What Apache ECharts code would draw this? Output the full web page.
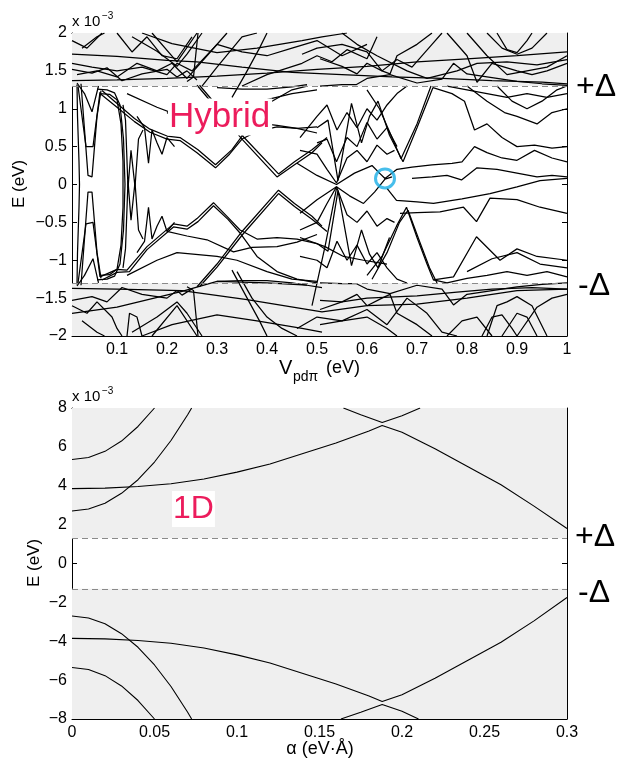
<!DOCTYPE html>
<html><head><meta charset="utf-8">
<script src="https://cdn.jsdelivr.net/npm/echarts@6/dist/echarts.min.js"></script>
<style>html,body{margin:0;padding:0;background:#fff}#c{width:620px;height:762px}</style>
</head><body><div id="c"></div>
<script>
// ---------- Top panel (Hybrid), x = V_pdπ (eV), y = E (×10^-3 eV) ----------
const topXTicks = [0.1,0.2,0.3,0.4,0.5,0.6,0.7,0.8,0.9,1];
const deltaTop = 1.3;
const ovalL  = [[0.02,1.32],[0.021,0.9],[0.024,0.3],[0.025,0],[0.024,-0.3],[0.021,-0.9],[0.02,-1.32]];
const ovalR1 = [[0.06,1.26],[0.08,1.25],[0.095,1.21],[0.106,1.05],[0.113,0.6],[0.116,0.0],[0.113,-0.6],[0.106,-1.05],[0.095,-1.21],[0.08,-1.25],[0.06,-1.26]];
const ovalR2 = [[0.066,1.2],[0.085,1.19],[0.1,1.12],[0.108,0.8],[0.112,0.3],[0.112,-0.3],[0.108,-0.8],[0.1,-1.12],[0.085,-1.19],[0.066,-1.2]];
const dipU1 = [[0.02,1.34],[0.035,1.2],[0.05,0.96],[0.063,1.3]];
const dipU2 = [[0.022,1.3],[0.038,0.5],[0.052,0.5],[0.066,1.22]];
const dipU3 = [[0.028,1.33],[0.042,0.12],[0.05,0.1],[0.06,0.9],[0.068,1.24]];
const dipL1 = [[0.02,-1.34],[0.035,-1.2],[0.052,-0.98],[0.063,-1.3]];
const dipL2 = [[0.022,-1.3],[0.038,-0.52],[0.052,-0.5],[0.066,-1.22]];
const dipL3 = [[0.028,-1.33],[0.042,-0.1],[0.05,-0.1],[0.06,-0.9],[0.068,-1.24]];
const zigA = [[0.112,1.05],[0.117,0.85],[0.122,-0.05],[0.128,0.45],[0.136,-0.03],[0.143,0.6],[0.152,0.72]];
const zigB = [[0.112,-1.1],[0.117,-0.85],[0.122,0.05],[0.128,-0.47],[0.136,0.03],[0.143,-0.6],[0.152,-0.72]];
const zigC = [[0.14,0.9],[0.155,0.75],[0.163,0.28],[0.17,0.72],[0.18,0.55],[0.19,0.4],[0.2,0.62],[0.215,0.5]];
const zigD = [[0.14,-0.9],[0.155,-0.75],[0.163,-0.3],[0.17,-0.72],[0.18,-0.55],[0.19,-0.42],[0.2,-0.62],[0.215,-0.5]];
const wU1 = [[0.066,1.2],[0.1,1.02],[0.135,0.83],[0.166,0.69],[0.2,0.6],[0.226,0.58],[0.26,0.42],[0.297,0.22],[0.325,0.4],[0.35,0.6],[0.38,0.7],[0.42,0.76],[0.46,0.74],[0.5,0.76]];
const wU2 = [[0.07,1.24],[0.1,1.07],[0.135,0.87],[0.166,0.73],[0.2,0.64],[0.226,0.62],[0.262,0.46],[0.297,0.26],[0.33,0.46],[0.35,0.64],[0.38,0.9],[0.41,1.1],[0.45,1.25],[0.48,1.3]];
const diagU1 = [[0.26,1.31],[0.3,1.0],[0.35,0.6],[0.42,0.1],[0.455,0.26],[0.49,0.42],[0.51,0.55]];
const diagU2 = [[0.265,1.31],[0.3,1.04],[0.35,0.65],[0.423,0.14],[0.455,0.3],[0.49,0.46],[0.52,0.62]];
const wL1 = [[0.066,-1.22],[0.1,-1.12],[0.12,-1.13],[0.16,-0.82],[0.213,-0.52],[0.24,-0.55],[0.26,-0.45],[0.293,-0.24],[0.32,-0.42],[0.346,-0.6],[0.38,-0.72],[0.42,-0.7],[0.46,-0.72],[0.5,-0.78]];
const wL2 = [[0.07,-1.26],[0.1,-1.16],[0.125,-1.15],[0.16,-0.86],[0.213,-0.56],[0.24,-0.59],[0.262,-0.49],[0.293,-0.28],[0.322,-0.46],[0.346,-0.64],[0.38,-0.95],[0.42,-1.15],[0.46,-1.25],[0.5,-1.3]];
const diagL1 = [[0.26,-1.35],[0.3,-1.05],[0.35,-0.62],[0.423,-0.075],[0.455,-0.25],[0.49,-0.42],[0.51,-0.55]];
const diagL2 = [[0.265,-1.35],[0.3,-1.09],[0.35,-0.67],[0.423,-0.12],[0.455,-0.29],[0.49,-0.46],[0.52,-0.62]];
const flatL = [[0.2,-0.62],[0.24,-0.68],[0.28,-0.73],[0.333,-0.89],[0.37,-0.83],[0.42,-0.82],[0.46,-0.76],[0.5,-0.66]];
const flatU = [[0.2,0.95],[0.25,0.72],[0.3,0.78],[0.333,0.87],[0.37,0.82],[0.42,0.78],[0.46,0.74],[0.5,0.68]];
const midU1 = [[0.12,1.2],[0.18,1.02],[0.22,0.92],[0.3,0.97],[0.34,1.0],[0.4,1.12],[0.45,1.2],[0.5,1.25]];
const midL1 = [[0.12,-1.2],[0.18,-1.0],[0.22,-0.9],[0.3,-0.95],[0.34,-1.0],[0.4,-1.15],[0.45,-1.25],[0.5,-1.28]];
const midL2 = [[0.3,-1.28],[0.35,-1.27],[0.4,-1.27],[0.45,-1.3],[0.48,-1.33]];
const midU2 = [[0.3,1.28],[0.35,1.26],[0.4,1.26],[0.45,1.29],[0.48,1.32]];
const rU1 = [[0.5,0.75],[0.522,0.85],[0.542,0.05],[0.569,1.07],[0.589,0.55],[0.605,0.9],[0.622,1.1],[0.645,0.65],[0.672,0.3],[0.7,0.75],[0.732,1.28]];
const rU2 = [[0.6,1.25],[0.625,1.0],[0.65,0.62],[0.668,0.34],[0.7,0.8],[0.728,1.3]];
const rU3 = [[0.5,0.55],[0.52,0.6],[0.539,0.3],[0.56,0.62],[0.58,0.5],[0.6,0.82],[0.62,0.6],[0.64,0.75],[0.66,0.5]];
const rU4 = [[0.46,0.28],[0.5,0.12],[0.539,0.0],[0.575,0.15],[0.61,0.25],[0.625,0.15],[0.636,0.08],[0.66,0.2],[0.69,0.23],[0.73,0.26],[0.77,0.28],[0.79,0.3],[0.815,0.5],[0.84,0.42],[0.87,0.35],[0.9,0.32],[0.935,0.45],[0.97,0.35],[1.0,0.3]];
const rU5 = [[0.69,0.08],[0.73,0.1],[0.76,0.12],[0.789,0.06],[0.82,0.22],[0.86,0.2],[0.9,0.15],[0.94,0.1],[0.97,0.12],[1.0,0.1]];
const rU6 = [[0.732,1.28],[0.77,1.2],[0.795,1.1],[0.815,0.72],[0.84,0.8],[0.87,0.62],[0.9,0.5],[0.935,0.52],[0.97,0.48],[1.0,0.5]];
const rU7 = [[0.8,1.3],[0.84,1.1],[0.875,0.95],[0.9,0.9],[0.94,0.8],[0.97,0.95],[1.0,1.0]];
const rU8 = [[0.86,1.3],[0.89,1.1],[0.92,1.0],[0.95,1.1],[0.98,1.25],[1.0,1.3]];
const rU9 = [[0.76,1.3],[0.8,1.25],[0.84,1.2],[0.88,1.15],[0.92,1.2],[0.96,1.15],[1.0,1.2]];
const rU10 = [[0.466,0.62],[0.5,0.9],[0.52,1.05],[0.54,0.72],[0.56,0.95],[0.58,0.75],[0.6,1.0],[0.62,0.85],[0.64,1.05],[0.66,1.2],[0.68,1.3]];
const rU11 = [[0.466,0.45],[0.5,0.4],[0.52,0.2],[0.539,0.02],[0.56,0.35],[0.58,0.45],[0.6,0.3],[0.62,0.52],[0.64,0.4],[0.655,0.45]];
const rL1 = [[0.466,-0.38],[0.5,-0.2],[0.539,-0.03],[0.565,-0.15],[0.593,-0.25],[0.615,-0.1],[0.636,0.07],[0.65,0.1]];
const rL3 = [[0.64,-0.05],[0.659,-0.21],[0.7,-0.23],[0.733,-0.25],[0.79,-0.19],[0.846,-0.12],[0.9,-0.03],[0.946,0.05],[1.0,0.08]];
const rL4 = [[0.666,-0.38],[0.7,-0.37],[0.746,-0.36],[0.793,-0.3],[0.819,-0.49],[0.846,-0.18],[0.9,-0.2],[0.946,-0.3],[1.0,-0.38]];
const rL5 = [[0.6,-1.2],[0.63,-0.95],[0.659,-0.55],[0.679,-0.3],[0.7,-0.7],[0.72,-1.05],[0.733,-1.26],[0.76,-1.3]];
const rL6 = [[0.61,-1.25],[0.64,-0.9],[0.665,-0.5],[0.682,-0.34],[0.705,-0.75],[0.725,-1.1],[0.74,-1.3]];
const rL7 = [[0.466,-0.7],[0.516,-0.82],[0.553,-0.95],[0.593,-1.0],[0.64,-1.05]];
const rL8 = [[0.49,-1.6],[0.516,-0.82],[0.539,-0.05]];
const rL9 = [[0.733,-1.26],[0.773,-1.22],[0.819,-0.69],[0.866,-1.0],[0.9,-0.85],[0.94,-0.95],[1.0,-1.0]];
const rL10 = [[0.8,-1.15],[0.85,-0.98],[0.9,-0.9],[0.946,-1.05],[1.0,-1.1]];
const rL11 = [[0.5,-0.78],[0.522,-0.88],[0.542,-0.08],[0.569,-1.07],[0.589,-0.6],[0.605,-0.92],[0.622,-1.1],[0.645,-0.7]];
const rL12 = [[0.76,-1.3],[0.8,-1.24],[0.84,-1.2],[0.88,-1.15],[0.92,-1.2],[0.96,-1.15],[1.0,-1.22]];
const rL13 = [[0.466,-0.6],[0.5,-0.5],[0.52,-0.25],[0.539,-0.03],[0.56,-0.4],[0.58,-0.5],[0.6,-0.35],[0.62,-0.55],[0.64,-0.45],[0.655,-0.5]];
const rL14 = [[0.466,-0.95],[0.5,-1.0],[0.52,-1.1],[0.54,-0.75],[0.56,-1.0],[0.58,-0.8],[0.6,-1.05],[0.62,-0.9],[0.64,-1.1],[0.66,-1.25],[0.68,-1.3]];
// gray-zone bands (|E| > Δ)
const gU1 = [[0.01,1.37],[0.1,1.38],[0.2,1.4],[0.3,1.43],[0.4,1.47],[0.5,1.52],[0.6,1.56],[0.7,1.62],[0.8,1.66],[0.9,1.7],[1.0,1.75]];
const gU2 = [[0.01,1.72],[0.1,1.69],[0.2,1.64],[0.26,1.62],[0.35,1.55],[0.45,1.48],[0.55,1.45],[0.65,1.42],[0.75,1.4],[0.85,1.37],[0.95,1.35],[1.0,1.33]];
const gU3 = [[0.01,1.6],[0.05,1.55],[0.1,1.5],[0.15,1.55],[0.2,1.45],[0.22,1.6],[0.25,1.5],[0.3,1.85],[0.35,1.75],[0.4,1.7],[0.45,1.8],[0.5,1.9],[0.55,1.7],[0.6,1.85]];
const gU4 = [[0.01,1.9],[0.04,1.8],[0.07,2.0]];
const gU5 = [[0.1,2.0],[0.13,1.75],[0.16,1.95],[0.19,1.7],[0.22,1.66],[0.25,1.95]];
const gU6 = [[0.27,1.3],[0.3,1.55],[0.35,1.95],[0.38,2.0]];
const gU7 = [[0.35,1.3],[0.4,1.45],[0.47,1.6],[0.5,1.7],[0.53,1.62],[0.56,1.78],[0.6,1.66],[0.62,1.95]];
const gU8 = [[0.47,1.72],[0.5,1.8],[0.55,1.85],[0.6,1.75],[0.63,1.5],[0.66,1.65],[0.69,1.55],[0.73,1.85],[0.75,2.0]];
const gU9 = [[0.76,2.0],[0.8,1.7],[0.82,1.35],[0.85,1.6],[0.9,1.5],[0.93,1.45],[0.96,1.5],[1.0,1.6]];
const gU10 = [[0.84,2.0],[0.87,1.8],[0.9,1.72],[0.93,1.8],[0.96,2.0]];
const gU11 = [[0.8,2.0],[0.84,1.7],[0.88,1.45],[0.92,1.5],[0.96,1.55],[1.0,1.7]];
const gU12 = [[0.02,1.45],[0.06,1.5],[0.1,1.42],[0.14,1.6],[0.18,1.5],[0.21,1.6],[0.24,1.4],[0.28,1.7],[0.32,2.0]];
const gU13 = [[0.55,2.0],[0.58,1.85],[0.62,1.7],[0.68,1.5],[0.72,1.4],[0.78,1.5],[0.82,1.6],[0.88,1.62],[0.94,1.58],[1.0,1.65]];
const gU14 = [[0.01,1.52],[0.05,1.47],[0.08,1.54],[0.11,1.37],[0.15,1.46],[0.2,1.52],[0.22,1.42],[0.24,1.5],[0.26,1.38]];
const gU15 = [[0.03,1.8],[0.06,1.95],[0.075,2.0]];
const gU16 = [[0.17,2.0],[0.22,1.62],[0.26,2.0]];
const gU17 = [[0.13,1.95],[0.18,1.76],[0.22,1.56],[0.24,1.72],[0.27,2.0]];
const gU18 = [[0.24,1.36],[0.253,1.42],[0.262,2.0]];
const gU19 = [[0.15,2.0],[0.21,1.86],[0.3,1.74],[0.38,1.8],[0.47,1.9],[0.51,1.95],[0.56,2.0]];
const gU20 = [[0.33,1.15],[0.357,1.46],[0.385,1.8],[0.4,2.0]];
const gU21 = [[0.506,1.3],[0.55,1.32],[0.579,1.32],[0.6,1.4],[0.646,1.45],[0.7,1.34],[0.75,1.39],[0.773,1.6],[0.8,1.46],[0.85,1.41],[0.9,1.36],[0.95,1.33],[1.0,1.31]];
const gU22 = [[0.506,1.66],[0.55,1.56],[0.58,1.46],[0.6,1.6],[0.63,1.5],[0.646,1.46],[0.66,1.7],[0.7,1.85],[0.73,2.0]];
const gU23 = [[0.86,2.0],[0.88,1.78],[0.9,1.74],[0.92,1.9],[0.93,2.0]];
const gL1 = [[0.01,-1.37],[0.1,-1.38],[0.23,-1.4],[0.36,-1.52],[0.51,-1.68],[0.6,-1.6],[0.7,-1.58],[0.8,-1.5],[0.9,-1.4],[1.0,-1.38]];
const gL2 = [[0.01,-1.7],[0.1,-1.62],[0.23,-1.41],[0.3,-1.28],[0.4,-1.3],[0.48,-1.33],[0.51,-1.36]];
const gL3 = [[0.01,-1.53],[0.05,-1.48],[0.08,-1.55],[0.11,-1.36],[0.15,-1.45],[0.2,-1.5],[0.22,-1.4],[0.23,-1.46],[0.25,-1.38]];
const gL4 = [[0.03,-1.8],[0.06,-1.95],[0.075,-2.0]];
const gL5 = [[0.12,-2.0],[0.125,-1.7],[0.14,-1.75],[0.15,-2.0]];
const gL6 = [[0.17,-2.0],[0.22,-1.6],[0.26,-2.0]];
const gL7 = [[0.13,-1.95],[0.18,-1.75],[0.22,-1.55],[0.24,-1.7],[0.27,-2.0]];
const gL8 = [[0.24,-1.35],[0.253,-1.4],[0.262,-2.0]];
const gL9 = [[0.15,-2.0],[0.21,-1.85],[0.3,-1.72],[0.38,-1.8],[0.47,-1.9],[0.51,-1.95]];
const gL10 = [[0.33,-1.13],[0.357,-1.46],[0.385,-1.8],[0.4,-2.0]];
const gL11 = [[0.34,-1.15],[0.37,-1.5],[0.4,-1.75],[0.43,-1.9],[0.46,-2.0]];
const gL12 = [[0.01,-1.6],[0.04,-1.7],[0.06,-1.55],[0.09,-1.75],[0.1,-1.9],[0.11,-2.0]];
const gL13 = [[0.46,-1.9],[0.5,-1.75],[0.55,-1.8],[0.6,-1.65],[0.64,-1.85],[0.68,-1.5],[0.72,-1.7],[0.75,-1.95],[0.78,-2.0]];
const hL1 = [[0.506,-1.53],[0.55,-1.55],[0.6,-1.5],[0.7,-1.47],[0.78,-1.42],[0.85,-1.38],[0.93,-1.36],[1.0,-1.38]];
const hL2 = [[0.506,-1.3],[0.55,-1.31],[0.579,-1.31],[0.6,-1.38],[0.646,-1.44],[0.7,-1.33],[0.75,-1.38],[0.773,-1.59],[0.8,-1.45],[0.85,-1.4],[0.9,-1.35],[0.95,-1.32],[1.0,-1.3]];
const hL3 = [[0.506,-1.65],[0.55,-1.55],[0.58,-1.45],[0.6,-1.6],[0.63,-1.5],[0.646,-1.45],[0.66,-1.7],[0.7,-1.85],[0.73,-2.0]];
const hL4 = [[0.506,-1.85],[0.55,-1.8],[0.6,-1.75],[0.64,-1.9],[0.66,-2.0]];
const hL5 = [[0.84,-2.0],[0.86,-1.6],[0.88,-1.55],[0.9,-1.48],[0.93,-1.6],[0.96,-2.0]];
const hL6 = [[0.83,-2.0],[0.85,-1.75],[0.87,-1.72],[0.89,-1.9],[0.9,-2.0]];
const hL7 = [[0.87,-2.0],[0.9,-1.7],[0.92,-1.75],[0.94,-2.0]];
const hL8 = [[0.76,-2.0],[0.79,-1.8],[0.82,-1.75],[0.85,-2.0]];
const hL9 = [[0.9,-2.0],[0.94,-1.62],[0.97,-1.5],[1.0,-1.45]];
const circlePoint = [[0.636,0.08]];

// ---------- Bottom panel (1D), x = α (eV·Å), y = E (×10^-3 eV) ----------
const deltaBot = 1.3;
const c1 = [[0,5.35],[0.01,5.45],[0.02,5.77],[0.03,6.3],[0.04,7.05],[0.05,8.0]];
const c2 = [[0,2.7],[0.01,2.8],[0.02,3.1],[0.03,3.61],[0.04,4.31],[0.05,5.22],[0.06,6.33],[0.07,7.64],[0.0725,8.0]];
const c3 = [[0,3.85],[0.02,3.88],[0.04,3.96],[0.06,4.1],[0.08,4.35],[0.1,4.7],[0.12,5.12],[0.14,5.66],[0.16,6.2],[0.18,6.82],[0.188,7.1],[0.2,6.75],[0.22,5.9],[0.24,4.98],[0.26,4.05],[0.28,2.95],[0.3,1.8]];
const c4 = [[0.1645,8.0],[0.175,7.65],[0.188,7.25],[0.2,7.6],[0.211,8.0]];
const m1 = [[0,-5.35],[0.01,-5.45],[0.02,-5.77],[0.03,-6.3],[0.04,-7.05],[0.05,-8.0]];
const m2 = [[0,-2.7],[0.01,-2.8],[0.02,-3.1],[0.03,-3.61],[0.04,-4.31],[0.05,-5.22],[0.06,-6.33],[0.07,-7.64],[0.0725,-8.0]];
const m3 = [[0,-3.85],[0.02,-3.88],[0.04,-3.96],[0.06,-4.1],[0.08,-4.35],[0.1,-4.7],[0.12,-5.12],[0.14,-5.66],[0.16,-6.2],[0.18,-6.82],[0.188,-7.1],[0.2,-6.75],[0.22,-5.9],[0.24,-4.98],[0.26,-4.05],[0.28,-2.95],[0.3,-1.75]];
const m4 = [[0.163,-8.0],[0.175,-7.65],[0.188,-7.25],[0.2,-7.6],[0.21,-8.0]];

const topLines = [ovalL,ovalR1,ovalR2,dipU1,dipU2,dipU3,dipL1,dipL2,dipL3,zigA,zigB,zigC,zigD,wU1,wU2,diagU1,diagU2,wL1,wL2,diagL1,diagL2,flatL,flatU,midU1,midL1,midU2,midL2,
  rU1,rU2,rU3,rU4,rU5,rU6,rU7,rU8,rU9,rU10,rU11,rL1,rL3,rL4,rL5,rL6,rL7,rL8,rL9,rL10,rL11,rL12,rL13,rL14,
  gU1,gU2,gU3,gU4,gU5,gU6,gU7,gU8,gU9,gU10,gU11,gU12,gU13,gU14,gU15,gU16,gU17,gU18,gU19,gU20,gU21,gU22,gU23,
  gL1,gL2,gL3,gL4,gL5,gL6,gL7,gL8,gL9,gL10,gL11,gL12,gL13,hL1,hL2,hL3,hL4,hL5,hL6,hL7,hL8,hL9];
const botLines = [c1,c2,c3,c4,m1,m2,m3,m4];

const FONT = 'Liberation Sans, Arial, Helvetica, sans-serif';
const chart = echarts.init(document.getElementById('c'), null, {renderer:'canvas'});

function lineSeries(list, ax, w){
  return list.map(d => ({type:'line', xAxisIndex:ax, yAxisIndex:ax, data:d, showSymbol:false, symbol:'none',
    lineStyle:{color:'#000', width:w}, z:3, silent:true, animation:false, clip:true}));
}
function bandSeries(ax, d, ymax){
  return {type:'line', xAxisIndex:ax, yAxisIndex:ax, data:[], silent:true, z:1, animation:false,
    markArea:{silent:true, itemStyle:{color:'#efefef'}, data:[[{yAxis:d},{yAxis:ymax}],[{yAxis:-ymax},{yAxis:-d}]]},
    markLine:{silent:true, symbol:'none', label:{show:false}, animation:false,
      lineStyle:{type:[6,4], color:'#8a8a8a', width:1}, data:[{yAxis:d},{yAxis:-d}]}};
}
const fmt = v => (v < 0 ? '\u2212' + String(-v) : String(v));
const tickStyle = {inside:true, length:5, lineStyle:{color:'#000'}};
const lblStyle = {color:'#000', fontSize:16, fontFamily:FONT, formatter:fmt};
function xPair(grid, min, max, interval, custom){
  const base = {type:'value', gridIndex:grid, min:min, max:max, splitLine:{show:false},
    axisLine:{show:true, onZero:false, lineStyle:{color:'#000', width:1}}};
  if (interval) base.interval = interval;
  const b = Object.assign({}, base, {position:'bottom', axisTick:Object.assign({}, tickStyle, custom?{customValues:custom}:{}),
    axisLabel:Object.assign({}, lblStyle, {margin:6}, custom?{customValues:custom}:{})});
  const t = Object.assign({}, base, {position:'top', axisTick:Object.assign({}, tickStyle, custom?{customValues:custom}:{}),
    axisLabel:{show:false}});
  return [b,t];
}
function yPair(grid, min, max, interval){
  const base = {type:'value', gridIndex:grid, min:min, max:max, interval:interval, splitLine:{show:false},
    axisLine:{show:true, onZero:false, lineStyle:{color:'#000', width:1}}, axisTick:tickStyle};
  return [Object.assign({}, base, {position:'left', axisLabel:Object.assign({}, lblStyle, {margin:5})}),
          Object.assign({}, base, {position:'right', axisLabel:{show:false}})];
}
const xs = xPair(0, 0.01, 1, null, topXTicks).concat(xPair(1, 0, 0.3, 0.05, null));
const ys = yPair(0, -2, 2, 0.5).concat(yPair(1, -8, 8, 2));

const txt = (x,y,text,size,extra) => ({type:'text', x:x, y:y, z:100, style:Object.assign({text:text, font:size+'px '+FONT, fill:'#000'}, extra||{})});

const option = {
  animation:false,
  backgroundColor:'#fff',
  grid:[{left:72, right:53, top:33, height:303},{left:72, right:53, top:408, height:311}],
  xAxis: xs,
  yAxis: ys,
  series: [bandSeries(0, deltaTop, 2), bandSeries(2, deltaBot, 8)]
    .concat(lineSeries(topLines, 0, 1.25)).concat(lineSeries(botLines, 2, 1.1))
    .concat([{type:'scatter', xAxisIndex:0, yAxisIndex:0, data:circlePoint, symbol:'circle', symbolSize:19, z:10, silent:true,
      itemStyle:{color:'rgba(0,0,0,0)', borderColor:'#19aee6', borderWidth:3}}]),
  graphic:[
    txt(72,29,'x 10',15,{textVerticalAlign:'bottom'}),
    txt(102,21,'\u22123',10,{textVerticalAlign:'bottom'}),
    txt(72,404,'x 10',15,{textVerticalAlign:'bottom'}),
    txt(102,396,'\u22123',10,{textVerticalAlign:'bottom'}),
    {type:'text', x:19, y:184, rotation:Math.PI/2, z:100, style:{text:'E (eV)', font:'17px '+FONT, fill:'#000', textAlign:'center', textVerticalAlign:'middle'}},
    {type:'text', x:34, y:563, rotation:Math.PI/2, z:100, style:{text:'E (eV)', font:'17px '+FONT, fill:'#000', textAlign:'center', textVerticalAlign:'middle'}},
    txt(279,368,'V',20,{textVerticalAlign:'middle'}),
    txt(293,377,'pd\u03c0',14,{textVerticalAlign:'middle'}),
    txt(326,368,'(eV)',18,{textVerticalAlign:'middle'}),
    txt(320,749,'\u03b1 (eV\u00b7\u00c5)',18,{textAlign:'center', textVerticalAlign:'middle'}),
    txt(576,87,'+\u0394',32,{textVerticalAlign:'middle'}),
    txt(578,286,'-\u0394',32,{textVerticalAlign:'middle'}),
    txt(575,537,'+\u0394',32,{textVerticalAlign:'middle'}),
    txt(578,593,'-\u0394',32,{textVerticalAlign:'middle'}),
    {type:'text', x:168, y:117, z:100, style:{text:'Hybrid', font:'35px '+FONT, fill:'#ec1c5c', textVerticalAlign:'middle', backgroundColor:'#fff', padding:[1,2,1,1]}},
    {type:'text', x:172, y:509, z:100, style:{text:'1D', font:'32px '+FONT, fill:'#ec1c5c', textVerticalAlign:'middle', backgroundColor:'#fff', padding:[2,1,2,1]}}
  ]
};
chart.setOption(option);
</script></body></html>
